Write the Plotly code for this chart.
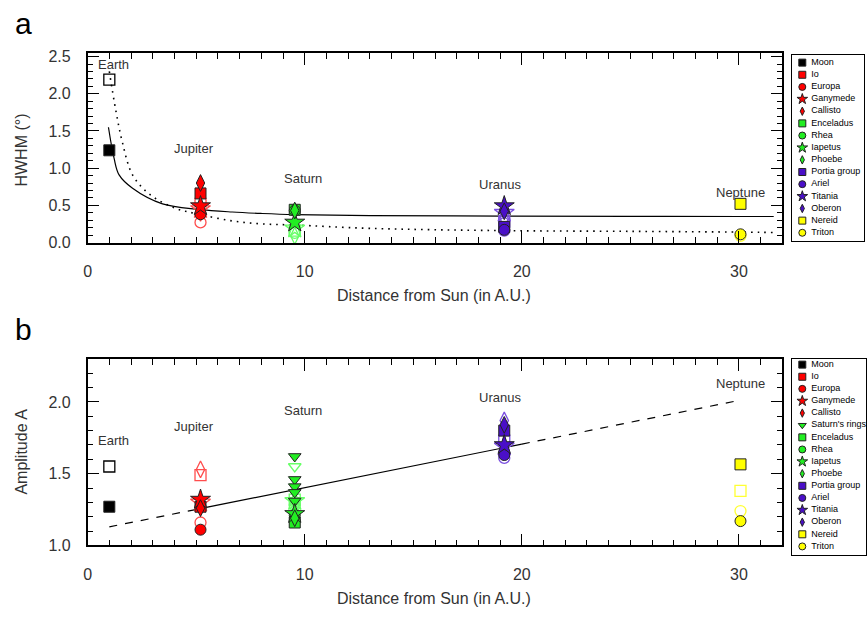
import plotly.graph_objects as go

# ---------------------------------------------------------------- data
planets = ["Earth", "Jupiter", "Saturn", "Uranus", "Neptune"]
planet_au = [1.0, 5.20, 9.54, 19.19, 30.07]
# label anchor heights for each planet name (panel a / panel b)
label_y_a = [2.39, 1.27, 0.86, 0.78, 0.67]
label_y_b = [1.73, 1.83, 1.94, 2.03, 2.13]
label_dx = [0.2, -0.3, 0.4, -0.2, 0.0]

bodies = ["Moon", "Io", "Europa", "Ganymede", "Callisto", "Saturn's rings",
          "Enceladus", "Rhea", "Iapetus", "Phoebe", "Portia group", "Ariel",
          "Titania", "Oberon", "Nereid", "Triton"]
body_planet = [0, 1, 1, 1, 1, 2, 2, 2, 2, 2, 3, 3, 3, 3, 4, 4]
body_color = ["#000000", "#ff0000", "#ff0000", "#ff0000", "#ff0000", "#22ee22",
              "#22ee22", "#22ee22", "#22ee22", "#22ee22", "#4a0fc8", "#4a0fc8",
              "#4a0fc8", "#4a0fc8", "#ffff00", "#ffff00"]
body_open_color = ["#000000", "#ff4d4d", "#ff4d4d", "#ff4d4d", "#ff4d4d", "#66ff66",
                   "#66ff66", "#66ff66", "#66ff66", "#66ff66", "#7a4ee0", "#7a4ee0",
                   "#7a4ee0", "#7a4ee0", "#ffff33", "#ffff33"]
body_symbol = ["square", "square", "circle", "star", "diamond-tall", "triangle-down",
               "square", "circle", "star", "diamond-tall", "square", "circle",
               "star", "diamond-tall", "square", "circle"]

# HWHM (deg): filled = solid-fit sample, open = dotted-fit sample
hwhm_fill = [[1.24], [0.66], [0.38], [0.49], [0.80], [],
             [0.44], [0.43], [0.27], [0.43], [0.21], [0.17],
             [0.49], [0.42], [0.52], [0.11]]
hwhm_open = [[2.19], [0.52], [0.27], [0.45], [0.40], [],
             [0.16], [0.13], [0.19], [0.09], [0.28], [0.16],
             [0.40], [0.32], [], [0.09]]

# Amplitude A
amp_fill = [[1.27], [1.27], [1.11], [1.32], [1.26], [1.62, 1.46, 1.41, 1.37, 1.31],
            [1.16], [1.21], [1.22], [1.19], [1.80], [1.63],
            [1.70], [1.84], [1.565], [1.17]]
amp_open = [[1.55], [1.49], [1.16], [1.30], [1.53], [1.55, 1.30],
            [1.32], [1.28], [1.31], [1.28], [1.73], [1.61],
            [1.69], [1.87], [1.38], [1.24]]

# fitted HWHM curves
solid_r = [0.96, 1.22, 1.45, 2.07, 3.45, 5.13, 6.66, 8.04, 9.54, 13.0, 19.19, 25.0, 30.07, 31.6]
solid_y = [1.55, 1.13, 0.91, 0.73, 0.52, 0.445, 0.41, 0.39, 0.375, 0.362, 0.355, 0.352, 0.35, 0.35]
dotted_r = [1.0, 1.29, 1.60, 2.07, 2.85, 4.05, 5.13, 6.66, 8.04, 9.54, 13.0, 19.19, 25.0, 30.07, 31.6]
dotted_y = [2.30, 1.79, 1.35, 0.91, 0.65, 0.46, 0.38, 0.29, 0.25, 0.235, 0.19, 0.16, 0.15, 0.14, 0.135]

# linear amplitude fit (solid over fitted span, dashed extrapolation)
fit_r = [1.0, 5.0, 20.0, 30.0]
fit_a = [1.13, 1.251, 1.706, 2.01]

sizes = {"square": 11, "circle": 11, "star": 15, "diamond-tall": 12, "triangle-down": 11}
leg_sizes = {"square": 7, "circle": 7, "star": 8, "diamond-tall": 6, "triangle-down": 7}

FONT = "Liberation Sans, Arial, Helvetica, sans-serif"
W, H = 868, 619

fig = go.Figure()


def add_points(values, xa, ya, open_marks):
    for i, name in enumerate(bodies):
        vals = values[i]
        if not vals:
            continue
        sym = body_symbol[i]
        if open_marks:
            marker = dict(symbol=sym + "-open", size=sizes[sym],
                          color=body_open_color[i], line=dict(width=1.3, color=body_open_color[i]))
        else:
            marker = dict(symbol=sym, size=sizes[sym], color=body_color[i],
                          line=dict(width=1, color="#222222"))
        fig.add_trace(go.Scatter(
            x=[planet_au[body_planet[i]]] * len(vals), y=vals, mode="markers",
            marker=marker, xaxis=xa, yaxis=ya, showlegend=False, name=name,
            cliponaxis=False))


# ---------------------------------------------------------------- panel a
fig.add_trace(go.Scatter(x=dotted_r, y=dotted_y, mode="lines", line_shape="spline",
                         line=dict(color="black", width=1.6, dash="1.6px,5px"),
                         xaxis="x", yaxis="y", showlegend=False))
fig.add_trace(go.Scatter(x=solid_r, y=solid_y, mode="lines", line_shape="spline",
                         line=dict(color="black", width=1.2),
                         xaxis="x", yaxis="y", showlegend=False))
add_points(hwhm_open, "x", "y", True)
add_points(hwhm_fill, "x", "y", False)

# ---------------------------------------------------------------- panel b
fig.add_trace(go.Scatter(x=fit_r[:2], y=fit_a[:2], mode="lines",
                         line=dict(color="black", width=1.2, dash="8px,8px"),
                         xaxis="x2", yaxis="y2", showlegend=False))
fig.add_trace(go.Scatter(x=fit_r[1:3], y=fit_a[1:3], mode="lines",
                         line=dict(color="black", width=1.2),
                         xaxis="x2", yaxis="y2", showlegend=False))
fig.add_trace(go.Scatter(x=fit_r[2:], y=fit_a[2:], mode="lines",
                         line=dict(color="black", width=1.2, dash="8px,8px"),
                         xaxis="x2", yaxis="y2", showlegend=False))
add_points(amp_open, "x2", "y2", True)
add_points(amp_fill, "x2", "y2", False)


# ---------------------------------------------------------------- legends
def add_legend(names_idx, xa, ya):
    for row, i in enumerate(names_idx):
        sym = body_symbol[i]
        fig.add_trace(go.Scatter(
            x=[10], y=[row], mode="markers", xaxis=xa, yaxis=ya, showlegend=False,
            marker=dict(symbol=sym, size=leg_sizes[sym], color=body_color[i],
                        line=dict(width=1, color="#222222")), cliponaxis=False))
    fig.add_trace(go.Scatter(
        x=[19] * len(names_idx), y=list(range(len(names_idx))), mode="text",
        text=[bodies[i] for i in names_idx], textposition="middle right",
        textfont=dict(family=FONT, size=9, color="black"),
        xaxis=xa, yaxis=ya, showlegend=False, cliponaxis=False))


legend_a = [i for i in range(len(bodies)) if bodies[i] != "Saturn's rings"]
legend_b = list(range(len(bodies)))
add_legend(legend_a, "x3", "y3")
add_legend(legend_b, "x4", "y4")

# ---------------------------------------------------------------- layout
x0, x1 = 84 / W, 782 / W
ya_dom = [1 - 243 / H, 1 - 49 / H]
yb_dom = [1 - 553 / H, 1 - 362 / H]

tickfont = dict(family=FONT, size=16, color="#333333")
common_x = dict(range=[0, 32], tickvals=[0, 10, 20, 30], ticks="inside", ticklen=12,
                tickwidth=1.2, tickcolor="black", showline=True, linecolor="black",
                linewidth=1.5, mirror="allticks", showgrid=False, zeroline=False,
                tickfont=tickfont, ticklabelstandoff=14,
                minor=dict(dtick=1, ticks="inside", ticklen=6, tickcolor="black", tickwidth=1),
                domain=[x0, x1])
common_y = dict(ticks="inside", ticklen=12, tickwidth=1.2, tickcolor="black",
                showline=True, linecolor="black", linewidth=1.5, mirror="allticks",
                showgrid=False, zeroline=False, tickfont=tickfont, ticklabelstandoff=12,
                tickformat=".1f")

leg_axis = dict(showline=True, linecolor="black", linewidth=1.2, mirror=True,
                showticklabels=False, ticks="", showgrid=False, zeroline=False,
                fixedrange=True)

fig.update_layout(
    width=W, height=H, margin=dict(l=0, r=0, t=0, b=0),
    paper_bgcolor="white", plot_bgcolor="white", showlegend=False,
    font=dict(family=FONT, color="#333333"),
    xaxis=dict(common_x, anchor="y"),
    yaxis=dict(common_y, range=[0, 2.55], tickvals=[0, 0.5, 1, 1.5, 2, 2.5],
               minor=dict(dtick=0.1, ticks="inside", ticklen=6, tickcolor="black", tickwidth=1),
               domain=ya_dom, anchor="x"),
    xaxis2=dict(common_x, anchor="y2"),
    yaxis2=dict(common_y, range=[1.0, 2.3], tickvals=[1.0, 1.5, 2.0],
                minor=dict(dtick=0.1, ticks="inside", ticklen=6, tickcolor="black", tickwidth=1),
                domain=yb_dom, anchor="x2"),
    xaxis3=dict(leg_axis, range=[0, 72], domain=[792 / W, 864 / W], anchor="y3"),
    yaxis3=dict(leg_axis, range=[14.64, -0.64], domain=[1 - 241 / H, 1 - 51 / H], anchor="x3"),
    xaxis4=dict(leg_axis, range=[0, 74], domain=[792 / W, 866 / W], anchor="y4"),
    yaxis4=dict(leg_axis, range=[15.73, -0.48], domain=[1 - 563 / H, 1 - 362 / H], anchor="x4"),
)

annotations = []
for k, p in enumerate(planets):
    annotations.append(dict(x=planet_au[k] + label_dx[k], y=label_y_a[k], xref="x", yref="y",
                            text=p, showarrow=False,
                            font=dict(family=FONT, size=13, color="#333333")))
    annotations.append(dict(x=planet_au[k] + label_dx[k], y=label_y_b[k], xref="x2", yref="y2",
                            text=p, showarrow=False,
                            font=dict(family=FONT, size=13, color="#333333")))

axis_title_font = dict(family=FONT, size=16, color="#333333")


def paper_text(px, py, text, font, angle=0):
    return dict(x=px / W, y=1 - py / H, xref="paper", yref="paper", text=text,
                showarrow=False, font=font, textangle=angle,
                xanchor="center", yanchor="middle")


annotations += [
    paper_text(432, 297, "Distance from Sun (in A.U.)", axis_title_font),
    paper_text(432, 607, "Distance from Sun (in A.U.)", axis_title_font),
    paper_text(18, 148, "HWHM (°)", axis_title_font, -90),
    paper_text(18, 457, "Amplitude A", axis_title_font, -90),
    paper_text(20, 19, "a", dict(family=FONT, size=30, color="black")),
    paper_text(20, 332, "b", dict(family=FONT, size=30, color="black")),
]
fig.update_layout(annotations=annotations)

fig.write_html("out.html")
